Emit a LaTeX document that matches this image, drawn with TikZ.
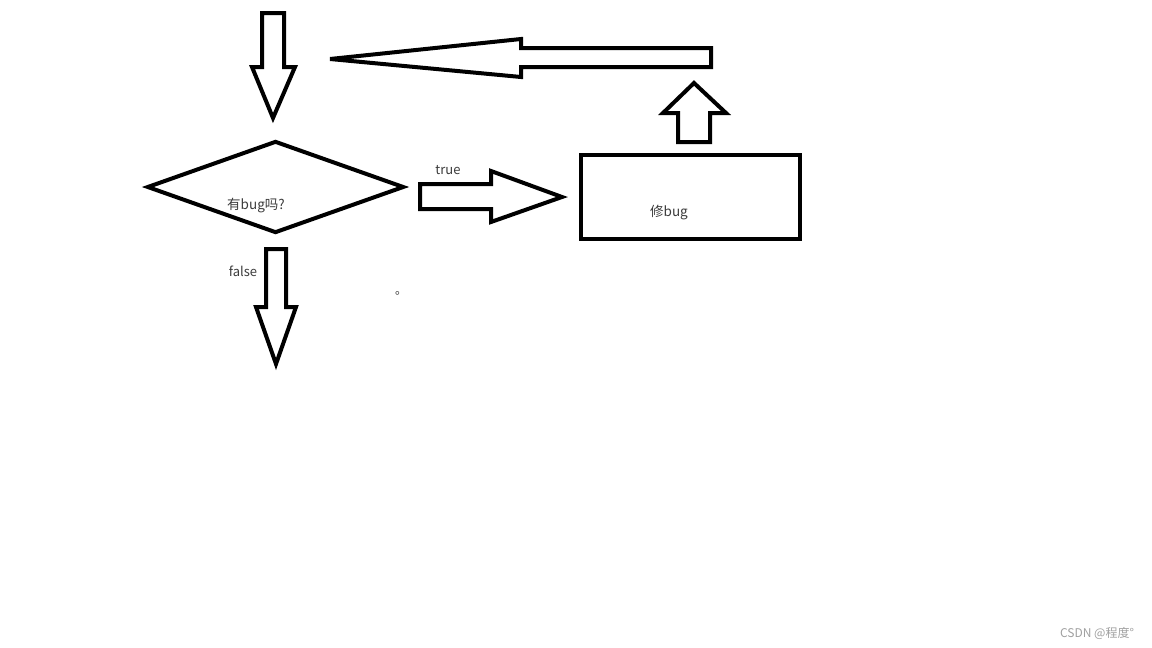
\documentclass[tikz,border=0pt]{standalone}
\usepackage{fontspec}
\setmainfont{Noto Sans CJK SC}
\usetikzlibrary{shapes.geometric}

\definecolor{labelgray}{HTML}{3C3C3C}
\definecolor{markgray}{HTML}{A0A0A0}

\tikzset{
  thick line/.style={draw=black, line width=4pt, line join=miter},
  label text/.style={inner sep=0pt, text=labelgray, font=\fontsize{13.5}{15}\selectfont},
}

\begin{document}
\begin{tikzpicture}[x=1pt,y=-1pt]
  \useasboundingbox[fill=white] (0,0) rectangle (1152,648);

  % decision and action
  \node[thick line, diamond, minimum width=257pt, minimum height=92pt, inner sep=0pt] (Question) at (275.5,187) {};
  \node[label text] (QuestionText) at (256,206) {有bug吗?};
  \node[thick line, rectangle, minimum width=219pt, minimum height=84pt, inner sep=0pt] (Fix) at (690.5,197) {};
  \node[label text] (FixText) at (669,213) {修bug};

%  block arrows
  \draw[thick line] (262,13) -- (284,13) -- (284,67) -- (295,67) -- (273,118)
        -- (252,67) -- (262,67) -- cycle; % entry
  \draw[thick line] (420,184) -- (491,184) -- (491,171) -- (562,197) -- (491,222)
        -- (491,209) -- (420,209) -- cycle; % true
  \draw[thick line] (678,142) -- (678,113) -- (663,113) -- (694,83) -- (726,113)
        -- (710,113) -- (710,142) -- cycle; % back up
  \draw[thick line] (711,48) -- (521,48) -- (521,39) -- (330,59) -- (521,77)
        -- (521,67) -- (711,67) -- cycle; % back left
  \draw[thick line] (266,249) -- (286,249) -- (286,307) -- (296,307) -- (276,364)
        -- (256,307) -- (266,307) -- cycle; % false

  \node[label text, font=\fontsize{13}{15}\selectfont] (TrueText) at (448,170) {true};
  \node[label text, font=\fontsize{13}{15}\selectfont] (FalseText) at (243,271) {false};
  \node[label text, font=\fontsize{12}{14}\selectfont] (Dot) at (401,293) {。};

  \node[inner sep=0pt, text=markgray, font=\fontsize{12}{14}\selectfont] (Mark) at (1097,633) {CSDN @程度°};
\end{tikzpicture}
\end{document}
